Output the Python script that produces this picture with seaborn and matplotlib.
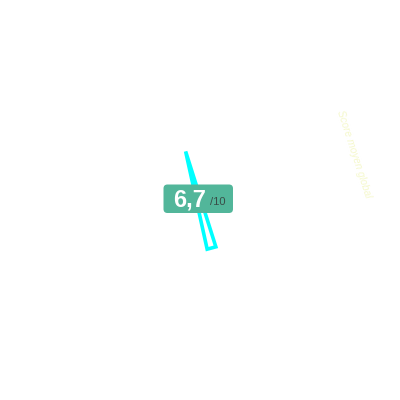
import numpy as np
import matplotlib.pyplot as plt
import seaborn as sns
from matplotlib.patches import Polygon, FancyBboxPatch

# ---------------------------------------------------------------------------
# Dados
# ---------------------------------------------------------------------------
score = 6.7
score_max = 10
score_label = "6,7"
max_label = "/10"
side_label = "Score moyen global"

# ponteiro (ângulo em graus a partir do eixo x, sentido anti-horário)
needle_angle = 105.0
needle_length = 100.0
needle_half_base = 4.5
pivot = (211.5, 248.0)

# ---------------------------------------------------------------------------
# Figura
# ---------------------------------------------------------------------------
sns.set_theme(style="white")
plt.rcParams["font.family"] = ["Liberation Sans", "DejaVu Sans"]

fig = plt.figure(figsize=(4, 4), dpi=100)
ax = fig.add_axes([0, 0, 1, 1])
ax.set_xlim(0, 400)
ax.set_ylim(400, 0)
ax.axis("off")

# ponteiro
a = np.deg2rad(needle_angle)
u = np.array([np.cos(a), -np.sin(a)])  # eixo y invertido
p = np.array([-u[1], u[0]])
base = np.array(pivot)
tip = base + needle_length * u
verts = [tip, base + needle_half_base * p, base - needle_half_base * p]
ax.add_patch(
    Polygon(verts, closed=True, facecolor="white", edgecolor="#00ffff",
            linewidth=2.6, joinstyle="miter", zorder=2)
)

# caixa com a nota
box = FancyBboxPatch((163.5, 184.5), 69.5, 28.5, boxstyle="round,pad=0,rounding_size=4",
                     facecolor="#52b69a", edgecolor="none", zorder=3)
ax.add_patch(box)
ax.text(205.5, 200.5, score_label, ha="right", va="center", fontsize=17,
        fontweight="bold", color="white", zorder=4)
ax.text(209.5, 202, max_label, ha="left", va="center", fontsize=8,
        color="#333333", alpha=0.8, zorder=4)

# rótulo lateral quase invisível
ax.text(354, 154, side_label, ha="center", va="center", rotation=-72,
        fontsize=7.5, style="italic", color="#f5f8cc", zorder=1)

fig.savefig("out.png", dpi=100, facecolor="white")
plt.close(fig)
